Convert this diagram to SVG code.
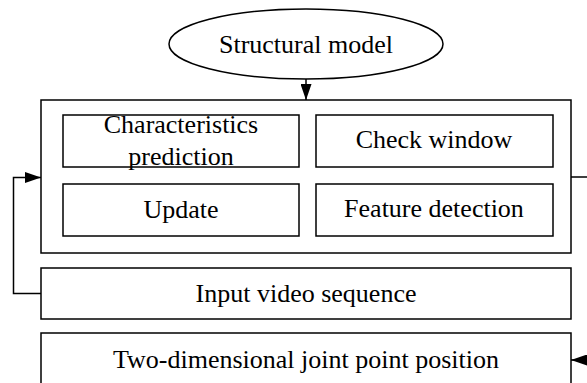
<svg xmlns="http://www.w3.org/2000/svg" width="587" height="383" viewBox="0 0 587 383">
<defs>
<style>
.b{fill:#fff;stroke:#000;stroke-width:1.5}
.t{font-family:"Liberation Serif","Times New Roman",serif;font-size:26px;fill:#000;text-anchor:middle}
.c{fill:none;stroke:#000;stroke-width:1.5}
</style>
<marker id="ah" viewBox="0 0 16 11" refX="16" refY="5.5" markerWidth="16" markerHeight="11" markerUnits="userSpaceOnUse" orient="auto">
<path d="M0,0 L16,5.5 L0,11 Z" fill="#000"/>
</marker>
</defs>
<g id="structural-model">
<ellipse class="b" cx="306" cy="44" rx="137" ry="35"/>
<text class="t" x="306" y="53">Structural model</text>
</g>
<g id="outer">
<rect class="b" x="41" y="100" width="530" height="153"/>
</g>
<g id="characteristics-prediction">
<rect class="b" x="63" y="115" width="236" height="52"/>
<text class="t" x="181" y="133">Characteristics</text>
<text class="t" x="181" y="165">prediction</text>
</g>
<g id="check-window">
<rect class="b" x="316" y="115" width="237" height="52"/>
<text class="t" x="434" y="148">Check window</text>
</g>
<g id="update">
<rect class="b" x="63" y="184" width="236" height="52"/>
<text class="t" x="181" y="218">Update</text>
</g>
<g id="feature-detection">
<rect class="b" x="316" y="184" width="237" height="52"/>
<text class="t" x="434" y="217">Feature detection</text>
</g>
<g id="input-video-sequence">
<rect class="b" x="41" y="268" width="530" height="51"/>
<text class="t" x="306" y="302">Input video sequence</text>
</g>
<g id="two-dimensional-joint-point-position">
<rect class="b" x="41" y="333" width="530" height="55"/>
<text class="t" x="306" y="368">Two-dimensional joint point position</text>
</g>
<g id="connectors">
<path class="c" d="M306,79 L306,100" marker-end="url(#ah)"/>
<path class="c" d="M41,293.5 L13.5,293.5 L13.5,177.5 L41,177.5" marker-end="url(#ah)"/>
<path class="c" d="M571,177 L592,177 L592,360 L571,360" marker-end="url(#ah)"/>
</g>
</svg>
